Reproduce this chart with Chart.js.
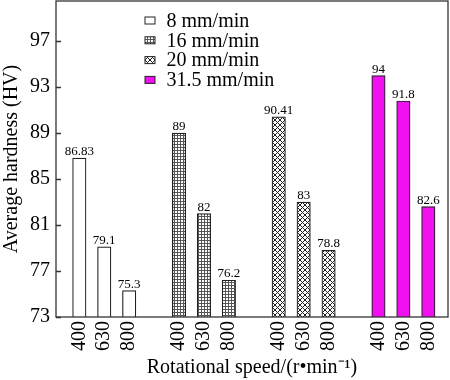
<!DOCTYPE html>
<html>
<head>
<meta charset="utf-8">
<script src="https://cdn.jsdelivr.net/npm/chart.js@4.4.1/dist/chart.umd.min.js"></script>
<style>
html,body{margin:0;padding:0;background:#fff;}
canvas{display:block;}
</style>
</head>
<body>
<canvas id="c" width="450" height="380"></canvas>
<script>
// ---- data ----
const speeds = ['400', '630', '800'];
const feedRates = ['8 mm/min', '16 mm/min', '20 mm/min', '31.5 mm/min'];
const hv8 = [86.83, 79.1, 75.3];
const hv16 = [89, 82, 76.2];
const hv20 = [90.41, 83, 78.8];
const hv315 = [94, 91.8, 82.6];
const yTicks = [73, 77, 81, 85, 89, 93, 97];

const series = [hv8, hv16, hv20, hv315];

// ---- patterns ----
function makeGrid() {
  const c = document.createElement('canvas'); c.width = 3; c.height = 3;
  const g = c.getContext('2d');
  g.fillStyle = '#fff'; g.fillRect(0, 0, 3, 3);
  g.fillStyle = '#555'; g.fillRect(0, 0, 3, 1); g.fillRect(0, 0, 1, 3);
  return document.getElementById('c').getContext('2d').createPattern(c, 'repeat');
}
function makeCross() {
  const c = document.createElement('canvas'); c.width = 5; c.height = 5;
  const g = c.getContext('2d');
  g.fillStyle = '#fff'; g.fillRect(0, 0, 5, 5);
  g.strokeStyle = '#222'; g.lineWidth = 1;
  g.beginPath(); g.moveTo(-1, -1); g.lineTo(6, 6); g.moveTo(6, -1); g.lineTo(-1, 6); g.stroke();
  return document.getElementById('c').getContext('2d').createPattern(c, 'repeat');
}
const fills = ['#ffffff', makeGrid(), makeCross(), '#f010f0'];

const datasets = series.map((vals, g) => ({
  label: feedRates[g],
  data: vals.map((v, i) => ({ x: g * (speeds.length + 1) + i, y: v })),
  backgroundColor: fills[g],
  borderColor: '#222',
  borderWidth: 1.2,
  borderSkipped: false,
  barThickness: 13.4,
  grouped: false
}));
const xPositions = [];
series.forEach((vals, g) => vals.forEach((v, i) => xPositions.push(g * (speeds.length + 1) + i)));

const FONT = 'Liberation Serif, Times New Roman, serif';

const decor = {
  id: 'decor',
  afterDatasetsDraw(chart) {
    const ctx = chart.ctx;
    const a = chart.chartArea;
    // value labels
    ctx.save();
    ctx.font = '13px ' + FONT;
    ctx.fillStyle = '#000';
    ctx.textAlign = 'center';
    ctx.textBaseline = 'alphabetic';
    chart.data.datasets.forEach((ds, di) => {
      chart.getDatasetMeta(di).data.forEach((el, i) => {
        ctx.fillText(String(ds.data[i].y), el.x, el.y - 3);
      });
    });
    // frame
    ctx.strokeStyle = '#333';
    ctx.lineWidth = 1.3;
    ctx.strokeRect(a.left, a.top, a.right - a.left, a.bottom - a.top);
    // inward y ticks
    const ys = chart.scales.y;
    ctx.beginPath();
    ys.ticks.forEach(t => {
      const p = Math.round(ys.getPixelForValue(t.value)) + 0.5;
      ctx.moveTo(a.left, p); ctx.lineTo(a.left + 5, p);
    });
    ctx.stroke();
    // legend
    const lx = 145, ly = 20.5, step = 19.8;
    chart.data.datasets.forEach((ds, di) => {
      const cy = ly + di * step;
      ctx.fillStyle = ds.backgroundColor;
      ctx.fillRect(lx, cy - 3.5, 10, 7);
      ctx.strokeStyle = '#222'; ctx.lineWidth = 1;
      ctx.strokeRect(lx, cy - 3.5, 10, 7);
      ctx.fillStyle = '#000';
      ctx.font = '20px ' + FONT;
      ctx.textAlign = 'left';
      ctx.textBaseline = 'middle';
      ctx.fillText(ds.label, 166.5, cy + 1);
    });
    ctx.restore();
  }
};

function noPad(s) { s.paddingTop = 0; s.paddingBottom = 0; s.paddingLeft = 0; s.paddingRight = 0; }

new Chart(document.getElementById('c'), {
  type: 'bar',
  data: { datasets },
  options: {
    responsive: false,
    devicePixelRatio: 1,
    animation: false,
    layout: { padding: { top: 1, right: 2, left: 0, bottom: 0 } },
    plugins: { legend: { display: false }, tooltip: { enabled: false } },
    scales: {
      x: {
        type: 'linear',
        min: -0.935,
        max: 14.79,
        offset: false,
        grid: { display: false, drawTicks: false, offset: false },
        border: { display: false },
        afterBuildTicks: (s) => { s.ticks = xPositions.map(v => ({ value: v })); },
        afterFit: (s) => { s.height = 63; noPad(s); },
        ticks: {
          autoSkip: false,
          maxRotation: 90,
          minRotation: 90,
          padding: 4,
          color: '#000',
          font: { family: FONT, size: 20 },
          callback: (v) => speeds[v % (speeds.length + 1)]
        },
        title: {
          display: true,
          text: 'Rotational speed/(r\u2022min\u207B\u00B9)',
          color: '#000',
          font: { family: FONT, size: 20 },
          padding: { top: 0, bottom: 0 }
        }
      },
      y: {
        min: 73,
        max: 100.5,
        grid: { display: false, drawTicks: false },
        border: { display: false },
        afterBuildTicks: (s) => { s.ticks = yTicks.map(v => ({ value: v })); },
        afterFit: (s) => { s.width = 56; noPad(s); },
        ticks: {
          padding: 6,
          color: '#000',
          font: { family: FONT, size: 20 }
        },
        title: {
          display: true,
          text: 'Average hardness (HV)',
          color: '#000',
          font: { family: FONT, size: 20 },
          padding: { top: 0, bottom: 0 }
        }
      }
    }
  },
  plugins: [decor]
});
</script>
</body>
</html>
